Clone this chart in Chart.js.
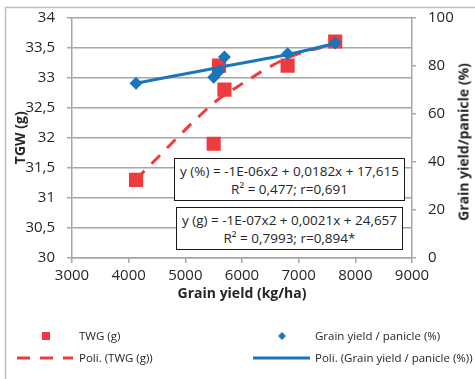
<!DOCTYPE html>
<html><head><meta charset="utf-8">
<script src="https://cdn.jsdelivr.net/npm/chart.js@4.4.1/dist/chart.umd.min.js"></script>
<style>
body{margin:0;background:#fff;}
#wrap{position:relative;width:475px;height:379px;overflow:hidden;font-family:'Open Sans',sans-serif;color:#262626;background:#fff}
#c{position:absolute;left:0;top:0}
.eq{position:absolute;background:#fff;border:1px solid #1a1a1a;box-sizing:border-box;text-align:center;font-size:13.5px;line-height:17.5px;white-space:nowrap;padding-top:4px}
.lg{position:absolute;font-size:11.5px;line-height:14px;white-space:nowrap}
#rt{position:absolute;left:463px;top:141.5px;transform:translate(-50%,-50%) rotate(-90deg);font-weight:bold;font-size:14px;white-space:nowrap}
svg{position:absolute;left:0;top:0}
</style></head>
<body>
<div id="wrap">
<canvas id="c" width="475" height="379"></canvas>
<div id="rt">Grain yield/panicle (%)</div>
<div class="eq" style="left:174px;top:158px;width:231px;height:43px">y (%) = -1E-06x2 + 0,0182x + 17,615<br>R² = 0,477; r=0,691</div>
<div class="eq" style="left:176px;top:207px;width:227px;height:43px">y (g) = -1E-07x2 + 0,0021x + 24,657<br>R² = 0,7993; r=0,894*</div>
<svg width="475" height="379">
<rect x="42" y="332" width="8" height="8" fill="#EE3B3F"/>
<polygon points="282,332 286,336 282,340 278,336" fill="#1B75BB"/>
<line x1="17" y1="358" x2="73" y2="358" stroke="#EE3B3F" stroke-width="3" stroke-dasharray="13,10"/>
<line x1="253" y1="358" x2="310" y2="358" stroke="#1B75BB" stroke-width="3"/>
</svg>
<div class="lg" style="left:79px;top:329px">TWG (g)</div>
<div class="lg" style="left:315px;top:329px">Grain yield / panicle (%)</div>
<div class="lg" style="left:79px;top:351px">Poli. (TWG (g))</div>
<div class="lg" style="left:315px;top:351px">Poli. (Grain yield / panicle (%))</div>
</div>
<script>
// Data
const grainYield = [4130, 5500, 5595, 5690, 6805, 7645];        // kg/ha
const twg = [31.3, 31.9, 33.2, 32.8, 33.2, 33.6];                 // g
const yieldPanicle = [72.7, 75.2, 77.8, 83.6, 84.9, 89.4];        // %
const twgTrend = [31.31, 32.58, 32.65, 32.71, 33.33, 33.56];      // polynomial trend (read)
const panicleTrend = [72.7, 78.8, 79.2, 79.7, 84.6, 89.2];        // polynomial trend (read)
const xTicks = [3000, 9000, 1000];   // min, max, step
const yTicks = [30, 34, 0.5];
const y1Ticks = [0, 100, 20];

const RED = '#EE3B3F', BLUE = '#1B75BB', GRID = '#a6a6a6', TXT = '#262626';
const pts = (xs, ys) => xs.map((x, i) => ({x: x, y: ys[i]}));

Chart.defaults.font.family = "'Open Sans', sans-serif";
Chart.defaults.color = TXT;

const frame = {
  id: 'frame',
  afterDraw(chart) {
    const ctx = chart.ctx;
    ctx.save();
    ctx.strokeStyle = '#c0c0c0';
    ctx.lineWidth = 1.5;
    ctx.beginPath();
    ctx.moveTo(5.5, 379); ctx.lineTo(5.5, 7.5); ctx.lineTo(475, 7.5);
    ctx.stroke();
    ctx.restore();
  }
};

new Chart(document.getElementById('c'), {
  type: 'scatter',
  data: {
    datasets: [
      {label: 'Grain yield / panicle (%)', data: pts(grainYield, yieldPanicle), yAxisID: 'y1',
       pointStyle: 'rectRot', pointRadius: 6.5, pointHoverRadius: 6.5, backgroundColor: BLUE, borderColor: BLUE, borderWidth: 0},
      {label: 'Poli. (Grain yield / panicle (%))', data: pts(grainYield, panicleTrend), yAxisID: 'y1',
       showLine: true, pointRadius: 0, borderColor: BLUE, borderWidth: 3, cubicInterpolationMode: 'monotone'},
      {label: 'TWG (g)', data: pts(grainYield, twg), yAxisID: 'y',
       pointStyle: 'rect', pointRadius: 10, pointHoverRadius: 10, backgroundColor: RED, borderColor: RED, borderWidth: 0},
      {label: 'Poli. (TWG (g))', data: pts(grainYield, twgTrend), yAxisID: 'y',
       showLine: true, pointRadius: 0, borderColor: RED, borderWidth: 3, borderDash: [12, 10], cubicInterpolationMode: 'monotone'}
    ]
  },
  options: {
    responsive: false,
    animation: false,
    devicePixelRatio: 1,
    layout: {padding: {left: 8, right: 0, top: 17.5, bottom: 77}},
    plugins: {legend: {display: false}, tooltip: {enabled: false}},
    scales: {
      x: {
        type: 'linear', position: 'bottom', min: xTicks[0], max: xTicks[1],
        ticks: {stepSize: xTicks[2], callback: v => String(v), padding: 4, font: {size: 15}, color: TXT, maxRotation: 0},
        grid: {drawOnChartArea: false, drawTicks: true, tickLength: 5, color: GRID, lineWidth: 1.5},
        border: {color: GRID, width: 1.5},
        title: {display: true, text: 'Grain yield (kg/ha)', font: {size: 14, weight: 'bold'}, padding: {top: 0, bottom: 0}, color: TXT},
        afterFit: s => { s.height = 44; s.paddingLeft = 0; s.paddingRight = 0; }
      },
      y: {
        position: 'left', min: yTicks[0], max: yTicks[1],
        ticks: {stepSize: yTicks[2], callback: v => String(v).replace('.', ','), padding: 12, font: {size: 15}, color: TXT},
        grid: {color: GRID, lineWidth: 1.5, tickLength: 5},
        border: {color: GRID, width: 1.5},
        title: {display: true, text: 'TGW (g)', font: {size: 14, weight: 'bold'}, padding: {top: 4.6, bottom: 0}, color: TXT},
        afterFit: s => { s.width = 64; s.paddingTop = 0; s.paddingBottom = 0; }
      },
      y1: {
        position: 'right', min: y1Ticks[0], max: y1Ticks[1],
        ticks: {stepSize: y1Ticks[2], padding: 12, font: {size: 15}, color: TXT},
        grid: {drawOnChartArea: false, tickLength: 4, color: GRID, lineWidth: 1.5},
        border: {color: GRID, width: 1.5},
        afterFit: s => { s.width = 63; s.paddingTop = 0; s.paddingBottom = 0; }
      }
    }
  },
  plugins: [frame]
});
</script>
</body></html>
